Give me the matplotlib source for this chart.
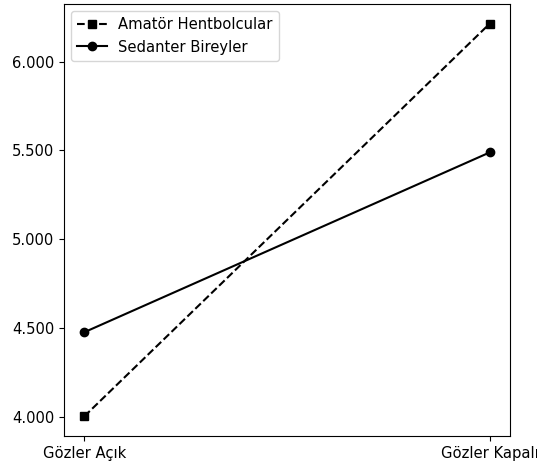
import matplotlib
matplotlib.use("Agg")
import matplotlib.pyplot as plt
from matplotlib.ticker import FuncFormatter, MultipleLocator

plt.rcParams["font.size"] = 10.6

conditions = ["Gözler Açık", "Gözler Kapalı"]
amator = [4.005, 6.213]
sedanter = [4.478, 5.489]

fig = plt.figure(figsize=(5.37, 4.69), dpi=100)
ax = fig.add_axes([64/537, 33/469, 446/537, 432/469])
x = list(range(len(conditions)))
ax.plot(x, amator, linestyle="--", marker="s", color="black", label="Amatör Hentbolcular")
ax.plot(x, sedanter, linestyle="-", marker="o", color="black", label="Sedanter Bireyler")
ax.set_xticks(x)
ax.set_xticklabels(conditions)
ax.yaxis.set_major_locator(MultipleLocator(0.5))
ax.yaxis.set_major_formatter(FuncFormatter(lambda v, p: f"{v:.3f}"))
ax.legend(loc="upper left")
fig.savefig("out.png", dpi=100)
